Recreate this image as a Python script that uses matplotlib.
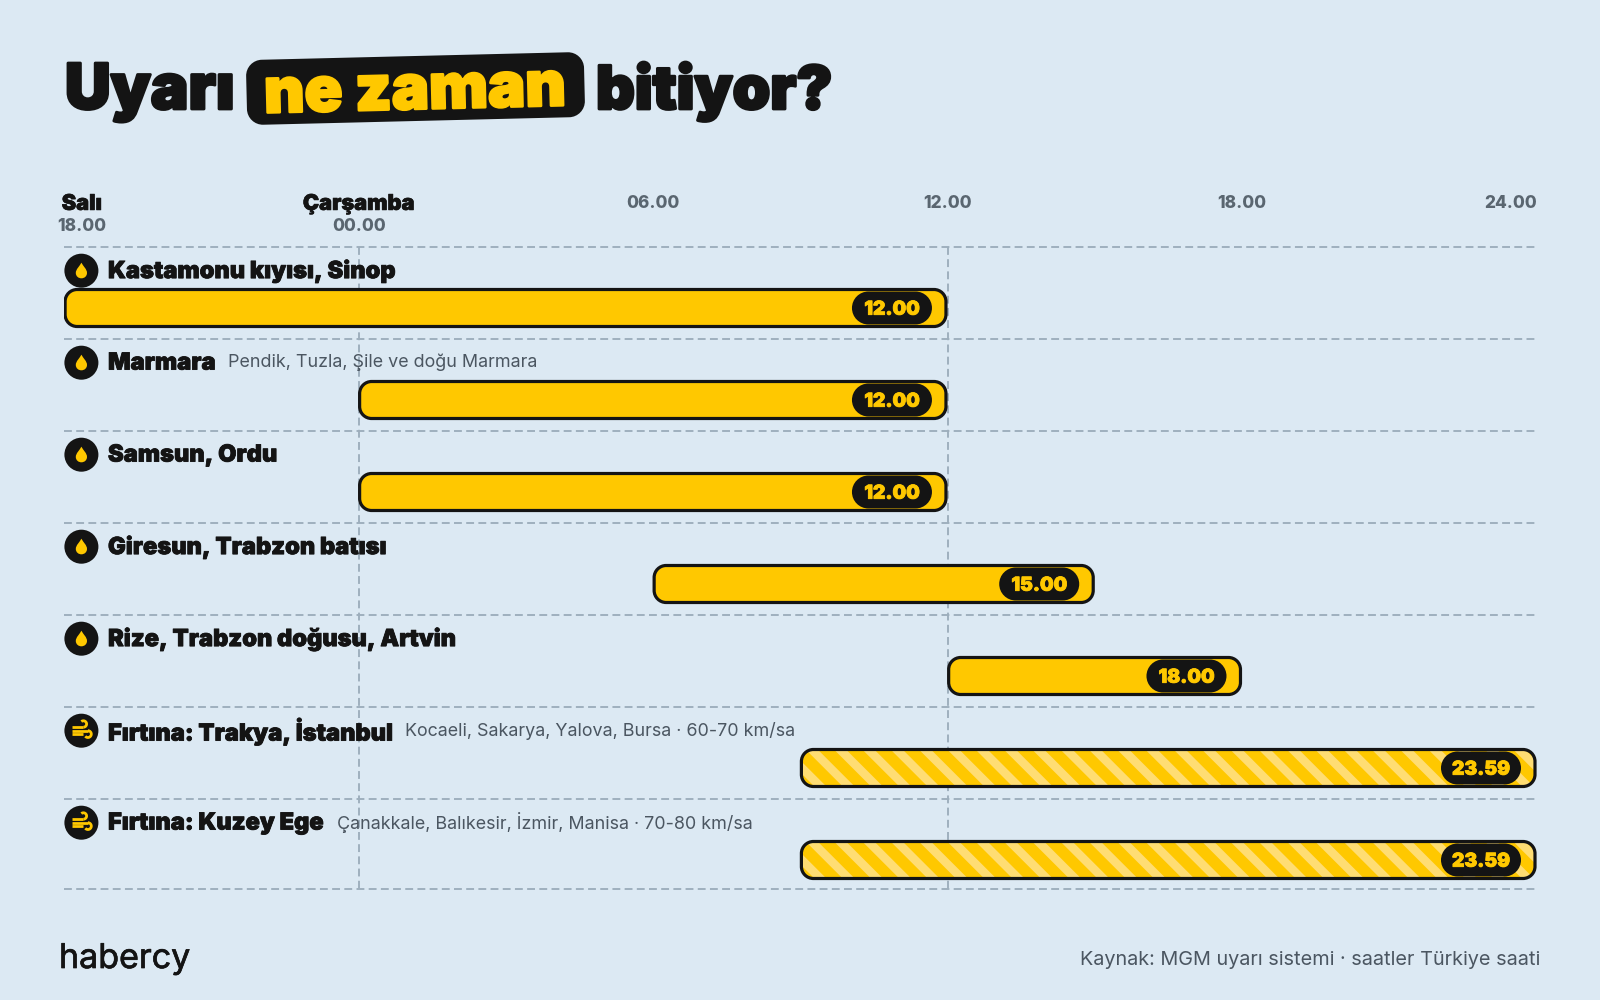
import numpy as np
import matplotlib
matplotlib.use('Agg')
import matplotlib.pyplot as plt
import matplotlib.patheffects as pe
from matplotlib.patches import Circle, PathPatch, Polygon
from matplotlib.path import Path
from matplotlib.transforms import Affine2D

# ---- data ----
labels = ["Kastamonu kıyısı, Sinop", "Marmara", "Samsun, Ordu", "Giresun, Trabzon batısı",
          "Rize, Trabzon doğusu, Artvin", "Fırtına: Trakya, İstanbul", "Fırtına: Kuzey Ege"]
details = ["", "Pendik, Tuzla, Şile ve doğu Marmara", "", "", "",
           "Kocaeli, Sakarya, Yalova, Bursa · 60-70 km/sa",
           "Çanakkale, Balıkesir, İzmir, Manisa · 70-80 km/sa"]
start_hours = [0, 6, 6, 12, 18, 15, 15]      # hours since Tuesday 18.00
end_hours = [18, 18, 18, 21, 24, 30, 30]
end_labels = ["12.00", "12.00", "12.00", "15.00", "18.00", "23.59", "23.59"]
kinds = ["rain", "rain", "rain", "rain", "rain", "wind", "wind"]
tick_hours = [0, 6, 12, 18, 24, 30]
tick_labels = ["18.00", "00.00", "06.00", "12.00", "18.00", "24.00"]
day_labels = {0: "Salı", 6: "Çarşamba"}
guide_hours = [6, 18]

BG, DARK, YEL, STRIPE = '#DCE9F3', '#141414', '#FFC800', '#FFDD73'
GRID, GREY, SUB = '#9DAEBC', '#5A6670', '#4B5661'
FONT = 'Inter'

W, H = 1600, 1000
L, R, T, B = 64.4, 1537.0, 246.7, 888.7
fig = plt.figure(figsize=(W/100, H/100), dpi=100, facecolor=BG)
ax = fig.add_axes([L/W, 1-B/H, (R-L)/W, (B-T)/H])
ax.set_axis_off()
U = 30/(R-L)                      # hours per pixel, same on both axes
ax.set_xlim(0, 30)
ax.set_ylim((B-T)*U, 0)

def heavy(t, w, color):
    t.set_path_effects([pe.withStroke(linewidth=w, foreground=color)])
    return t

def rounded(x, y, w, h, r):
    k = 0.5523*r
    v = [(x+r, y), (x+w-r, y), (x+w-r+k, y), (x+w, y+r-k), (x+w, y+r), (x+w, y+h-r), (x+w, y+h-r+k), (x+w-r+k, y+h),
         (x+w-r, y+h), (x+r, y+h), (x+r-k, y+h), (x, y+h-r+k), (x, y+h-r), (x, y+r), (x, y+r-k), (x+r-k, y), (x+r, y), (x+r, y)]
    c = [Path.MOVETO, Path.LINETO, Path.CURVE4, Path.CURVE4, Path.CURVE4, Path.LINETO, Path.CURVE4, Path.CURVE4, Path.CURVE4,
         Path.LINETO, Path.CURVE4, Path.CURVE4, Path.CURVE4, Path.LINETO, Path.CURVE4, Path.CURVE4, Path.CURVE4, Path.CLOSEPOLY]
    return Path(v, c)

ROW = 92*U
row_tops = [i*ROW for i in range(len(labels))]
bottom = (B-T)*U
dash = (0, (4.2, 2.3))
for y in row_tops+[bottom]:
    ax.plot([0, 30], [y, y], color=GRID, lw=1.35, ls=dash, clip_on=False, zorder=1, dash_capstyle='butt')
for h in guide_hours:
    ax.plot([h, h], [0, bottom], color=GRID, lw=1.35, ls=dash, clip_on=False, zorder=1, dash_capstyle='butt')

# ---- axis header ----
for h, t in zip(tick_hours, tick_labels):
    if h in day_labels:
        xc = max(h, 17.6*U)
        heavy(ax.text(xc, -42.8*U, day_labels[h], ha='center', va='center', family=FONT, weight=900, fontsize=15.6, color=DARK, clip_on=False), 0.5, DARK)
        ax.text(xc, -20.5*U, t, ha='center', va='center', family=FONT, weight=800, fontsize=12.4, color=GREY, clip_on=False)
    else:
        ha = 'right' if h == 30 else 'center'
        ax.text(h-0.6*U, -43.5*U, t, ha=ha, va='center', family=FONT, weight=800, fontsize=12.4, color=GREY, clip_on=False)

def drop(cx, cy):
    verts = [(0, -8), (1.8, -4.5), (5.6, -1.5), (5.6, 2.2), (5.6, 5.6), (3, 7.6), (0, 7.6),
             (-3, 7.6), (-5.6, 5.6), (-5.6, 2.2), (-5.6, -1.5), (-1.8, -4.5), (0, -8), (0, -8)]
    codes = [Path.MOVETO]+[Path.CURVE4]*12+[Path.CLOSEPOLY]
    p = Path([(cx+a*U, cy+b*U) for a, b in verts], codes)
    ax.add_patch(PathPatch(p, fc=YEL, ec='none', zorder=6))

def wind(cx, cy):
    kw = dict(color=YEL, lw=2.0, solid_capstyle='butt', zorder=6, clip_on=False)
    def line(xs, ys):
        ax.plot([cx+a*U for a in xs], [cy+b*U for b in ys], **kw)
    def curl(x0, y0, r, a0, a1):
        th = np.radians(np.linspace(a0, a1, 30))
        line(x0+r*np.cos(th), y0+r*np.sin(th))
    line([-9, 2], [-3.5, -3.5]); curl(2, -6.7, 3.2, 90, -130)
    line([-9, 6.5], [0, 0]); curl(6.5, 3.4, 3.4, -90, 140)
    line([-9, 2], [3.4, 3.4])

# ---- rows ----
fig.canvas.draw()
rend = fig.canvas.get_renderer()
BAR_H = 37*U
for top, lab, det, s, e, el, k in zip(row_tops, labels, details, start_hours, end_hours, end_labels, kinds):
    cy = top+24*U
    ax.add_patch(Circle((17*U, cy), 17*U, fc=DARK, ec='none', zorder=5, clip_on=False))
    (drop if k == 'rain' else wind)(17*U, cy)
    tx = heavy(ax.text(43.6*U, cy+0.9*U, lab, ha='left', va='center', family=FONT, weight=900, fontsize=17, color=DARK, zorder=5), 0.6, DARK)
    if det:
        bb = tx.get_window_extent(rend)
        ax.text((bb.x1-L+13)*U, cy-0.2*U, det, ha='left', va='center', family=FONT, weight=400, fontsize=12.9, color=SUB, zorder=5)
    yc = top+61.3*U
    x0, x1 = s+0.7*U, e-2.0*U
    path = rounded(x0, yc-BAR_H/2, x1-x0, BAR_H, 12*U)
    fill = PathPatch(path, fc=YEL, ec='none', zorder=3)
    ax.add_patch(fill)
    if k == 'wind':
        per, wd = 28.3*U, 12*U
        for sx in np.arange(x0-BAR_H-per+13*U, x1+per, per):
            st = Polygon([(sx, yc-BAR_H/2), (sx+wd, yc-BAR_H/2), (sx+wd+BAR_H, yc+BAR_H/2), (sx+BAR_H, yc+BAR_H/2)],
                         fc=STRIPE, ec='none', zorder=3.1)
            ax.add_patch(st)
            st.set_clip_path(fill)
    ax.add_patch(PathPatch(path, fc='none', ec=DARK, lw=2.3, zorder=3.2))
    pw, ph = 80*U, 33*U
    px1 = e-16*U
    ax.add_patch(PathPatch(rounded(px1-pw, yc-ph/2, pw, ph, 16.5*U), fc=DARK, ec='none', zorder=4))
    heavy(ax.text(px1-pw/2, yc+1.7*U, el, ha='center', va='center', family=FONT, weight=900, fontsize=13.8, color=YEL, zorder=5), 0.6, YEL)

# ---- title ----
def fx(x): return x/W
def fy(y): return 1-y/H
heavy(fig.text(fx(65), fy(109), 'Uyarı', ha='left', va='baseline', family=FONT, weight=900, fontsize=45.5, color=DARK), 2.0, DARK)
heavy(fig.text(fx(596), fy(109), 'bitiyor?', ha='left', va='baseline', family=FONT, weight=900, fontsize=43.3, color=DARK), 2.0, DARK)
bcx, bcy = 415.5, 1000-88.5
rot = Affine2D().rotate_deg_around(bcx, bcy, 1.4)
badge = PathPatch(rounded(bcx-169, bcy-32.5, 338, 65, 16), fc=DARK, ec='none', transform=rot)
fig.add_artist(badge)
heavy(fig.text(fx(415), fy(92.5), 'ne zaman', ha='center', va='center', rotation=1.4, rotation_mode='anchor', family=FONT, weight=900, fontsize=45, color=YEL), 1.8, YEL)

# ---- footer ----
heavy(fig.text(fx(59), fy(968), 'habercy', ha='left', va='baseline', family=FONT, weight=400, fontsize=24.5, color=DARK), 0.5, DARK)
fig.text(fx(1540), fy(960), 'Kaynak: MGM uyarı sistemi · saatler Türkiye saati', ha='right', va='center', family=FONT, weight=400, fontsize=14.3, color=SUB)

fig.savefig('out.png', dpi=100, facecolor=BG)
